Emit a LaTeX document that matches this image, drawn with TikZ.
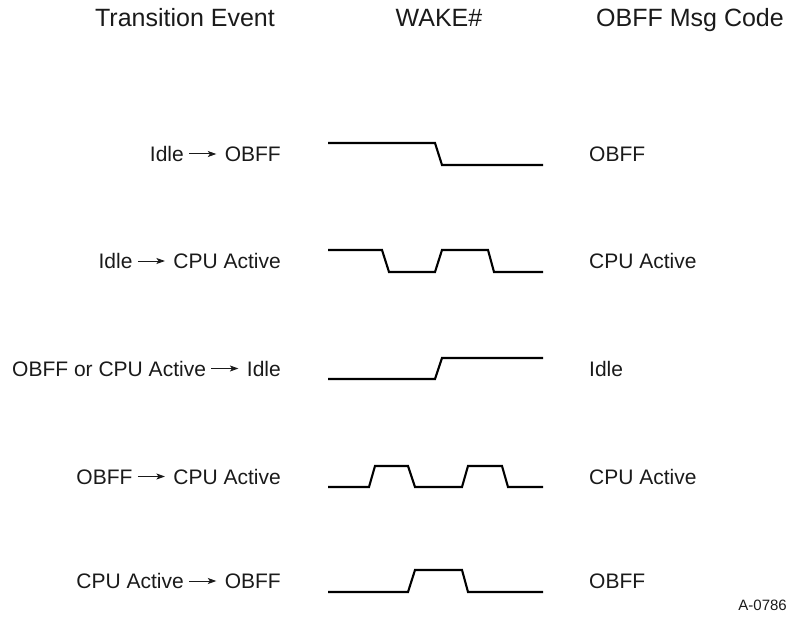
\documentclass[tikz,border=0pt]{standalone}
\usepackage{fontspec}
\setmainfont{Liberation Sans}
\usetikzlibrary{arrows.meta}
\definecolor{ink}{HTML}{1A1A1A}
\newcommand\evarrow{\hspace{5pt}\tikz[baseline=0pt]\draw[ink,line width=1pt,-{Stealth[length=8.5pt,width=6pt,inset=2pt]}] (0pt,7.5pt) -- (27pt,7.5pt);\hspace{8pt}}
\begin{document}
\begin{tikzpicture}[x=1pt,y=-1pt,
  head/.style={font=\fontsize{25}{30}\selectfont, text=ink, inner sep=0pt, anchor=base},
  evt/.style={font=\fontsize{21}{25}\selectfont, text=ink, inner sep=0pt, anchor=base east},
  msg/.style={font=\fontsize{21}{25}\selectfont, text=ink, inner sep=0pt, anchor=base west},
  wave/.style={draw=black, line width=2.1pt, line join=miter},
]
\useasboundingbox (0,0) rectangle (790,623);
% headers
\node[head] (h1) at (185,26.7) {Transition Event};
\node[head] (h2) at (439,26.7) {WAKE\#};
\node[head] (h3) at (690,26.7) {OBFF Msg Code};
% row labels (baseline = centre + 7.5)
\node[evt] (e1) at (281,161.5) {Idle\evarrow OBFF};
\node[evt] (e2) at (281,268.5) {Idle\evarrow CPU Active};
\node[evt] (e3) at (281,376) {OBFF or CPU Active\evarrow Idle};
\node[evt] (e4) at (281,484) {OBFF\evarrow CPU Active};
\node[evt] (e5) at (281,588.5) {CPU Active\evarrow OBFF};
\node[msg] (m1) at (589,161.5) {OBFF};
\node[msg] (m2) at (589,268.5) {CPU Active};
\node[msg] (m3) at (589,376) {Idle};
\node[msg] (m4) at (589,484) {CPU Active};
\node[msg] (m5) at (589,588.5) {OBFF};
\node[font=\fontsize{15}{18}\selectfont, text=ink, inner sep=0pt, anchor=base east] (code) at (787,610) {A-0786};
% waveforms
\draw[wave] (328,143)--(435,143)--(442,165)--(543,165);
\draw[wave] (328,250)--(382,250)--(389,272)--(435,272)--(442,250)--(488,250)--(494,272)--(543,272);
\draw[wave] (328,379)--(435,379)--(442,358)--(543,358);
\draw[wave] (328,487)--(369,487)--(375,466)--(408,466)--(415,487)--(462,487)--(468,466)--(502,466)--(508,487)--(543,487);
\draw[wave] (328,592)--(408,592)--(415,570)--(462,570)--(468,592)--(543,592);
\end{tikzpicture}
\end{document}
